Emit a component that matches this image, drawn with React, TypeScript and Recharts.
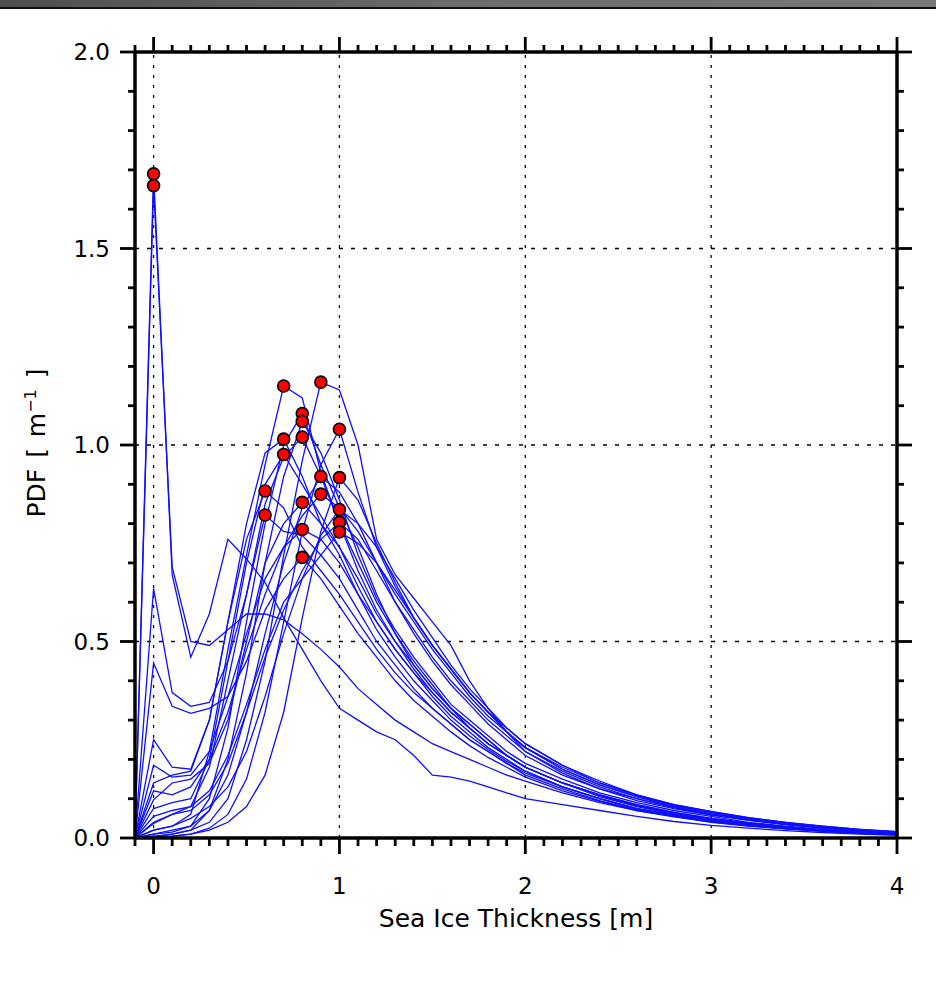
import React from 'react';
import { ComposedChart, Line, Scatter, XAxis, YAxis, ReferenceLine } from 'recharts';

// sample positions (m): 0.1 steps up to 2 m, 0.2 steps in the tail
const X_VALUES = [
  -0.1, 0, 0.1, 0.2, 0.3, 0.4, 0.5, 0.6, 0.7, 0.8, 0.9, 1.0,
  1.1, 1.2, 1.3, 1.4, 1.5, 1.6, 1.7, 1.8, 1.9, 2.0,
  2.2, 2.4, 2.6, 2.8, 3.0, 3.2, 3.4, 3.6, 3.8, 4.0,
];

// PDF curves, one per member
const PDF_A = [0, 1.69, 0.67, 0.46, 0.57, 0.76, 0.71, 0.65, 0.56, 0.48, 0.40, 0.33,
  0.30, 0.27, 0.25, 0.21, 0.16, 0.155, 0.145, 0.13, 0.115, 0.10,
  0.085, 0.07, 0.055, 0.042, 0.032, 0.025, 0.019, 0.014, 0.01, 0.007];
const PDF_B = [0, 1.66, 0.69, 0.50, 0.49, 0.53, 0.57, 0.57, 0.555, 0.52, 0.48, 0.435,
  0.38, 0.34, 0.30, 0.27, 0.24, 0.22, 0.20, 0.18, 0.16, 0.145,
  0.115, 0.09, 0.07, 0.055, 0.04, 0.03, 0.024, 0.018, 0.013, 0.01];
const PDF_C = [0, 0.02, 0.03, 0.06, 0.22, 0.48, 0.72, 0.95, 1.15, 1.12, 0.93, 0.80,
  0.68, 0.58, 0.50, 0.43, 0.37, 0.32, 0.28, 0.24, 0.21, 0.18,
  0.14, 0.11, 0.085, 0.065, 0.05, 0.038, 0.028, 0.02, 0.015, 0.01];
const PDF_D = [0, 0.003, 0.01, 0.02, 0.04, 0.10, 0.25, 0.45, 0.72, 0.96, 1.16, 1.14,
  1.0, 0.76, 0.67, 0.61, 0.55, 0.49, 0.40, 0.33, 0.27, 0.22,
  0.165, 0.125, 0.10, 0.077, 0.06, 0.046, 0.035, 0.026, 0.019, 0.014];
const PDF_E = [0, 0.01, 0.02, 0.03, 0.10, 0.28, 0.55, 0.80, 1.0, 1.08, 0.95, 0.84,
  0.74, 0.62, 0.52, 0.45, 0.39, 0.33, 0.29, 0.25, 0.21, 0.18,
  0.14, 0.11, 0.085, 0.065, 0.05, 0.038, 0.028, 0.021, 0.015, 0.01];
const PDF_F = [0, 0.005, 0.01, 0.02, 0.07, 0.20, 0.42, 0.70, 0.92, 1.06, 0.98, 0.86,
  0.72, 0.61, 0.53, 0.46, 0.40, 0.34, 0.30, 0.26, 0.22, 0.19,
  0.15, 0.115, 0.09, 0.07, 0.055, 0.04, 0.03, 0.022, 0.016, 0.012];
const PDF_G = [0, 0.002, 0.005, 0.01, 0.025, 0.06, 0.15, 0.32, 0.55, 0.78, 0.95, 1.04,
  0.88, 0.74, 0.64, 0.56, 0.49, 0.43, 0.37, 0.32, 0.27, 0.23,
  0.175, 0.135, 0.105, 0.082, 0.065, 0.05, 0.038, 0.028, 0.02, 0.014];
const PDF_H = [0, 0.04, 0.06, 0.08, 0.18, 0.40, 0.62, 0.85, 0.97, 1.02, 0.92, 0.80,
  0.70, 0.60, 0.52, 0.44, 0.38, 0.33, 0.28, 0.24, 0.21, 0.18,
  0.14, 0.105, 0.08, 0.06, 0.045, 0.035, 0.026, 0.019, 0.014, 0.01];
const PDF_I = [0, 0.14, 0.16, 0.17, 0.30, 0.55, 0.80, 0.98, 1.015, 0.92, 0.80, 0.72,
  0.62, 0.53, 0.46, 0.40, 0.35, 0.30, 0.26, 0.225, 0.195, 0.17,
  0.13, 0.10, 0.075, 0.058, 0.044, 0.034, 0.025, 0.018, 0.013, 0.009];
const PDF_J = [0, 0.075, 0.09, 0.10, 0.20, 0.45, 0.70, 0.90, 0.976, 0.90, 0.82, 0.74,
  0.64, 0.55, 0.48, 0.42, 0.36, 0.31, 0.27, 0.23, 0.20, 0.17,
  0.13, 0.10, 0.075, 0.057, 0.043, 0.033, 0.024, 0.018, 0.013, 0.009];
const PDF_K = [0, 0.01, 0.015, 0.03, 0.07, 0.16, 0.32, 0.52, 0.70, 0.84, 0.92, 0.88,
  0.80, 0.70, 0.60, 0.52, 0.45, 0.39, 0.34, 0.29, 0.25, 0.21,
  0.16, 0.125, 0.095, 0.075, 0.058, 0.045, 0.034, 0.025, 0.018, 0.013];
const PDF_L = [0, 0.003, 0.005, 0.01, 0.02, 0.04, 0.08, 0.16, 0.32, 0.56, 0.78, 0.917,
  0.86, 0.75, 0.65, 0.56, 0.49, 0.43, 0.37, 0.32, 0.27, 0.23,
  0.18, 0.14, 0.11, 0.085, 0.068, 0.052, 0.04, 0.03, 0.022, 0.016];
const PDF_M = [0, 0.25, 0.18, 0.175, 0.30, 0.55, 0.76, 0.883, 0.84, 0.74, 0.68, 0.62,
  0.55, 0.48, 0.42, 0.37, 0.33, 0.29, 0.25, 0.22, 0.19, 0.16,
  0.125, 0.095, 0.072, 0.055, 0.042, 0.032, 0.024, 0.018, 0.013, 0.009];
const PDF_N = [0, 0.12, 0.11, 0.13, 0.20, 0.32, 0.48, 0.62, 0.74, 0.82, 0.875, 0.84,
  0.78, 0.70, 0.62, 0.55, 0.48, 0.42, 0.36, 0.31, 0.27, 0.23,
  0.175, 0.135, 0.105, 0.08, 0.062, 0.048, 0.036, 0.027, 0.02, 0.014];
const PDF_O = [0, 0.097, 0.14, 0.15, 0.19, 0.30, 0.50, 0.70, 0.80, 0.854, 0.80, 0.74,
  0.66, 0.57, 0.50, 0.44, 0.38, 0.33, 0.29, 0.25, 0.21, 0.18,
  0.14, 0.11, 0.083, 0.063, 0.048, 0.037, 0.027, 0.02, 0.015, 0.01];
const PDF_P = [0, 0.02, 0.03, 0.05, 0.08, 0.13, 0.22, 0.36, 0.52, 0.66, 0.77, 0.836,
  0.80, 0.74, 0.66, 0.58, 0.51, 0.44, 0.38, 0.33, 0.28, 0.24,
  0.185, 0.145, 0.11, 0.085, 0.067, 0.052, 0.04, 0.03, 0.022, 0.016];
const PDF_Q = [0, 0.635, 0.37, 0.335, 0.345, 0.45, 0.62, 0.822, 0.78, 0.77, 0.72, 0.66,
  0.58, 0.50, 0.44, 0.38, 0.33, 0.29, 0.25, 0.22, 0.19, 0.165,
  0.13, 0.10, 0.075, 0.058, 0.045, 0.034, 0.025, 0.019, 0.014, 0.01];
const PDF_R = [0, 0.037, 0.06, 0.07, 0.11, 0.19, 0.32, 0.46, 0.58, 0.68, 0.76, 0.803,
  0.76, 0.68, 0.60, 0.53, 0.46, 0.40, 0.35, 0.30, 0.26, 0.22,
  0.17, 0.13, 0.10, 0.078, 0.06, 0.046, 0.035, 0.026, 0.019, 0.013];
const PDF_S = [0, 0.185, 0.155, 0.16, 0.22, 0.36, 0.52, 0.66, 0.74, 0.785, 0.76, 0.70,
  0.62, 0.55, 0.48, 0.42, 0.37, 0.32, 0.28, 0.24, 0.21, 0.18,
  0.14, 0.108, 0.082, 0.062, 0.048, 0.036, 0.027, 0.02, 0.014, 0.01];
const PDF_T = [0, 0.055, 0.07, 0.08, 0.12, 0.21, 0.34, 0.48, 0.60, 0.66, 0.72, 0.779,
  0.75, 0.70, 0.63, 0.56, 0.49, 0.43, 0.37, 0.32, 0.28, 0.24,
  0.185, 0.14, 0.108, 0.083, 0.065, 0.05, 0.038, 0.028, 0.02, 0.015];
const PDF_U = [0, 0.445, 0.335, 0.317, 0.33, 0.36, 0.45, 0.58, 0.66, 0.714, 0.66, 0.59,
  0.52, 0.46, 0.40, 0.35, 0.31, 0.27, 0.235, 0.205, 0.18, 0.155,
  0.12, 0.093, 0.07, 0.054, 0.041, 0.031, 0.023, 0.017, 0.012, 0.008];

const CURVES = [PDF_A, PDF_B, PDF_C, PDF_D, PDF_E, PDF_F, PDF_G, PDF_H, PDF_I, PDF_J, PDF_K,
  PDF_L, PDF_M, PDF_N, PDF_O, PDF_P, PDF_Q, PDF_R, PDF_S, PDF_T, PDF_U];

const X_GRID = [0, 1, 2, 3];
const Y_GRID = [0.5, 1.0, 1.5];
const X_TICKS = Array.from({ length: 42 }, (_, i) => (i - 1) / 10);
const Y_TICKS = Array.from({ length: 21 }, (_, i) => i / 10);

const FONT = '"DejaVu Sans", sans-serif';
const TICK_W = 2.8;

const curveData = CURVES.map((vals) => vals.map((y, i) => ({ x: X_VALUES[i], y })));

// red dot at the maximum of every curve
const peaks = CURVES.map((vals) => {
  let k = 0;
  vals.forEach((v, i) => { if (v > vals[k]) k = i; });
  return { x: X_VALUES[k], y: vals[k] };
});

const isMajorX = (v: number) => v >= 0 && Math.abs(v - Math.round(v)) < 1e-6;
const isMajorY = (v: number) => Math.abs(v * 2 - Math.round(v * 2)) < 1e-6;

function BottomTick({ x, y, payload }: any) {
  const major = isMajorX(payload.value);
  return (
    <g>
      <line x1={x} x2={x} y1={y} y2={y + (major ? 16 : 8)} stroke="#000" strokeWidth={TICK_W} />
      {major && (
        <text x={x} y={y + 56} textAnchor="middle" fontFamily={FONT} fontSize={23} fill="#000">
          {String(Math.round(payload.value))}
        </text>
      )}
    </g>
  );
}

function TopTick({ x, y, payload }: any) {
  const major = isMajorX(payload.value);
  return <line x1={x} x2={x} y1={y} y2={y - (major ? 15 : 7)} stroke="#000" strokeWidth={TICK_W} />;
}

function LeftTick({ x, y, payload }: any) {
  const major = isMajorY(payload.value);
  return (
    <g>
      <line x1={x} x2={x - (major ? 15 : 7)} y1={y} y2={y} stroke="#000" strokeWidth={TICK_W} />
      {major && (
        <text x={x - 25} y={y + 8} textAnchor="end" fontFamily={FONT} fontSize={23} fill="#000">
          {payload.value.toFixed(1)}
        </text>
      )}
    </g>
  );
}

function RightTick({ x, y, payload }: any) {
  const major = isMajorY(payload.value);
  return <line x1={x} x2={x + (major ? 15 : 7)} y1={y} y2={y} stroke="#000" strokeWidth={TICK_W} />;
}

const PeakDot = (p: any) => (
  <circle cx={p.cx} cy={p.cy} r={6} fill="#ff0000" stroke="#000" strokeWidth={1.6} />
);

const axisLine = { stroke: '#000', strokeWidth: 3.5 };

export default function App() {
  return (
    <div style={{ position: 'absolute', left: 0, top: 0, width: 936, height: 982, background: '#fff', overflow: 'hidden' }}>
      <div style={{ position: 'absolute', left: 0, top: 0, width: 936, height: 7, background: 'linear-gradient(to right, #4e4e4e, #6c6c6c 50%, #777)', borderBottom: '2px solid #111' }} />
      <ComposedChart width={936} height={982} margin={{ top: 32, right: 19, bottom: 84, left: 35 }}>
        <XAxis xAxisId="b" dataKey="x" type="number" domain={[-0.1, 4]} allowDataOverflow
          ticks={X_TICKS} interval={0} height={60} tickSize={0} tickMargin={0}
          tick={(p: any) => <BottomTick {...p} />} tickLine={false} axisLine={axisLine} />
        <XAxis xAxisId="t" orientation="top" dataKey="x" type="number" domain={[-0.1, 4]} allowDataOverflow
          ticks={X_TICKS} interval={0} height={20} tickSize={0} tickMargin={0}
          tick={(p: any) => <TopTick {...p} />} tickLine={false} axisLine={axisLine} />
        <YAxis yAxisId="l" dataKey="y" type="number" domain={[0, 2]} allowDataOverflow
          ticks={Y_TICKS} interval={0} width={100} tickSize={0} tickMargin={0}
          tick={(p: any) => <LeftTick {...p} />} tickLine={false} axisLine={axisLine} />
        <YAxis yAxisId="r" orientation="right" dataKey="y" type="number" domain={[0, 2]} allowDataOverflow
          ticks={Y_TICKS} interval={0} width={20} tickSize={0} tickMargin={0}
          tick={(p: any) => <RightTick {...p} />} tickLine={false} axisLine={axisLine} />
        {X_GRID.map((v) => (
          <ReferenceLine key={'gx' + v} xAxisId="b" yAxisId="l" x={v} stroke="#000" strokeWidth={1.3} strokeDasharray="3 7" />
        ))}
        {Y_GRID.map((v) => (
          <ReferenceLine key={'gy' + v} xAxisId="b" yAxisId="l" y={v} stroke="#000" strokeWidth={1.3} strokeDasharray="4 8" />
        ))}
        {curveData.map((d, i) => (
          <Line key={'c' + i} xAxisId="b" yAxisId="l" data={d} dataKey="y" type="linear"
            stroke="#0f0fff" strokeWidth={1.3} dot={false} activeDot={false} isAnimationActive={false} />
        ))}
        <Scatter xAxisId="b" yAxisId="l" data={peaks} dataKey="y" shape={PeakDot} isAnimationActive={false} />
      </ComposedChart>
      <div style={{ position: 'absolute', left: 516, top: 918, transform: 'translate(-50%, -50%)', fontFamily: FONT, fontSize: 25, whiteSpace: 'nowrap' }}>
        Sea Ice Thickness [m]
      </div>
      <div style={{ position: 'absolute', left: 36, top: 443, transform: 'translate(-50%, -50%) rotate(-90deg)', fontFamily: FONT, fontSize: 25, whiteSpace: 'nowrap', wordSpacing: 3 }}>
        PDF [ m<sup style={{ fontSize: 16 }}>−1</sup> ]
      </div>
    </div>
  );
}
